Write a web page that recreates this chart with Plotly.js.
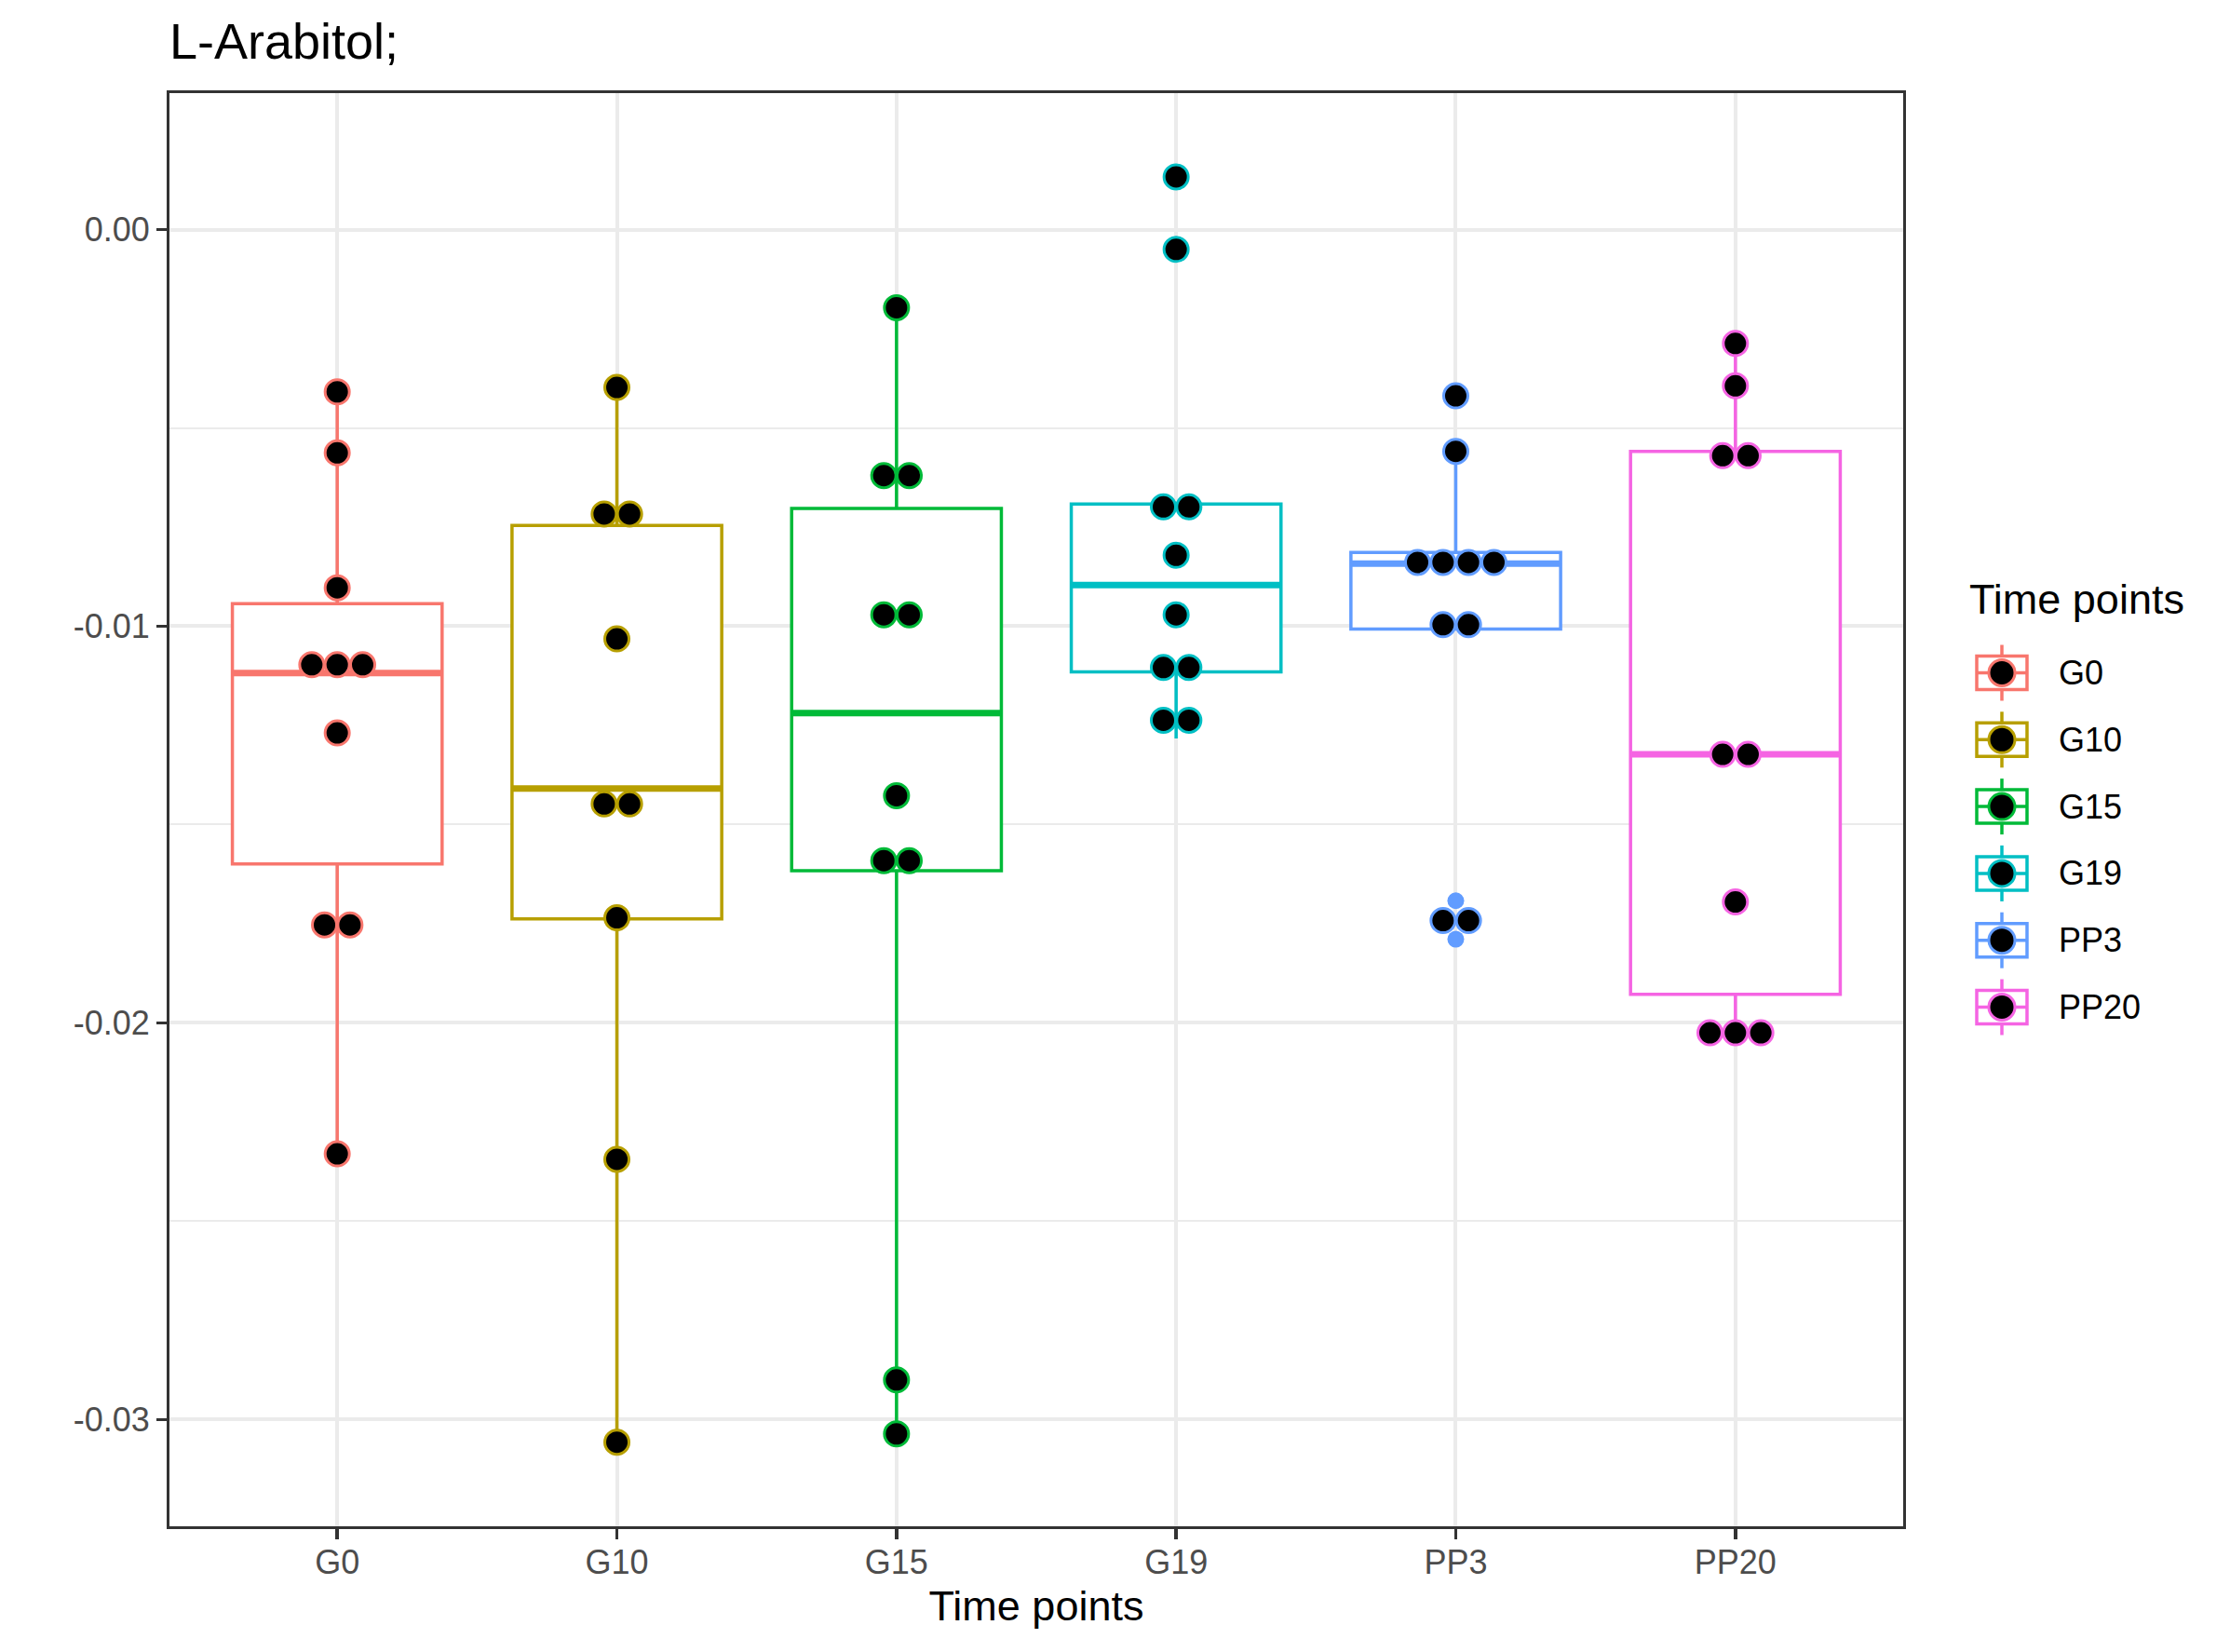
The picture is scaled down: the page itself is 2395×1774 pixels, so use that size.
<!DOCTYPE html>
<html>
<head>
<meta charset="utf-8">
<script src="https://cdn.plot.ly/plotly-3.0.1.min.js"></script>
<style>html,body{margin:0;padding:0;background:#fff;}#chart{width:2395px;height:1774px;}</style>
</head>
<body>
<div id="chart"></div>
<script>
// ---- data ----
const categories = ['G0', 'G10', 'G15', 'G19', 'PP3', 'PP20'];
const colors = ['#F8766D', '#B79F00', '#00BA38', '#00BFC4', '#619CFF', '#F564E3'];

const valuesG0   = [-0.00409, -0.00563, -0.00903, -0.01097, -0.01097, -0.01097, -0.01269, -0.01753, -0.01753, -0.02330];
const valuesG10  = [-0.00398, -0.00717, -0.00717, -0.01032, -0.01448, -0.01448, -0.01735, -0.02344, -0.03057];
const valuesG15  = [-0.00197, -0.00620, -0.00620, -0.00971, -0.00971, -0.01427, -0.01591, -0.01591, -0.02900, -0.03036];
const valuesG19  = [0.00133, -0.00050, -0.00699, -0.00699, -0.00821, -0.00971, -0.01104, -0.01104, -0.01237, -0.01237];
const valuesPP3  = [-0.00419, -0.00559, -0.00839, -0.00839, -0.00839, -0.00839, -0.00996, -0.00996, -0.01742, -0.01742];
const valuesPP20 = [-0.00287, -0.00394, -0.00570, -0.00570, -0.01323, -0.01323, -0.01695, -0.02025, -0.02025, -0.02025];

const q1Values     = [-0.01599, -0.01738, -0.01616, -0.01115, -0.01007, -0.01928];
const medianValues = [-0.01118, -0.01409, -0.01219, -0.00896, -0.00842, -0.01323];
const q3Values     = [-0.00943, -0.00746, -0.00703, -0.00692, -0.00814, -0.00559];
const lowerWhisker = [-0.02330, -0.03057, -0.03036, -0.01283, -0.01007, -0.02025];
const upperWhisker = [-0.00409, -0.00398, -0.00197, -0.00692, -0.00559, -0.00287];

const outliersG19 = [0.00133, -0.00050];
const outliersPP3 = [-0.00419, -0.01692, -0.01789];

const yTickValues = [0, -0.01, -0.02, -0.03];
const yTickLabels = ['0.00', '-0.01', '-0.02', '-0.03'];
const yMinorValues = [-0.005, -0.015, -0.025];

// ---- build ----
const allValues = [valuesG0, valuesG10, valuesG15, valuesG19, valuesPP3, valuesPP20];
const allOutliers = [[], [], [], outliersG19, outliersPP3, []];
const FONT = '"Liberation Sans", Arial, Helvetica, sans-serif';
const BOXW = 0.75;
const BINW = 0.091;

const traces = [];
categories.forEach((c, i) => {
  traces.push({
    type: 'box', x: [i], q1: [q1Values[i]], median: [medianValues[i]], q3: [q3Values[i]],
    lowerfence: [lowerWhisker[i]], upperfence: [upperWhisker[i]],
    width: BOXW, whiskerwidth: 0, boxpoints: false,
    fillcolor: '#FFFFFF', line: {color: colors[i], width: 3.5},
    showlegend: false, hoverinfo: 'skip'
  });
});
categories.forEach((c, i) => {
  traces.push({
    type: 'scatter', mode: 'lines', x: [i - BOXW / 2, i + BOXW / 2], y: [medianValues[i], medianValues[i]],
    line: {color: colors[i], width: 7}, showlegend: false, hoverinfo: 'skip'
  });
});
categories.forEach((c, i) => {
  if (!allOutliers[i].length) return;
  traces.push({
    type: 'scatter', mode: 'markers', x: allOutliers[i].map(() => i), y: allOutliers[i],
    marker: {color: colors[i], size: 18}, showlegend: false, hoverinfo: 'skip'
  });
});
categories.forEach((c, i) => {
  const vals = allValues[i];
  const counts = {};
  vals.forEach(v => { counts[v] = (counts[v] || 0) + 1; });
  const seen = {};
  const xs = [], ys = [];
  vals.forEach(v => {
    const n = counts[v];
    const k = seen[v] || 0; seen[v] = k + 1;
    xs.push(i + (k - (n - 1) / 2) * BINW);
    ys.push(v);
  });
  traces.push({
    type: 'scatter', mode: 'markers', x: xs, y: ys, name: c,
    marker: {color: '#000000', size: 26, line: {color: colors[i], width: 3}},
    showlegend: false, hoverinfo: 'y'
  });
});

// ---- legend (ggplot style keys) ----
const plotL = 182, plotR = 2044, plotT = 100, plotB = 1639;
const px2paperX = px => (px - plotL) / (plotR - plotL);
const px2paperY = py => (plotB - py) / (plotB - plotT);
const shapes = [], annotations = [];
const keyX = px2paperX(2150);
categories.forEach((c, i) => {
  const ky = px2paperY(722.5 + 71.8 * i);
  const base = {xref: 'paper', yref: 'paper', xsizemode: 'pixel', ysizemode: 'pixel', xanchor: keyX, yanchor: ky};
  shapes.push(Object.assign({}, base, {type: 'line', x0: 0, x1: 0, y0: -30, y1: 30, line: {color: colors[i], width: 3.5}}));
  shapes.push(Object.assign({}, base, {type: 'rect', x0: -27, x1: 27, y0: -18, y1: 18, fillcolor: '#FFFFFF', line: {color: colors[i], width: 3.5}}));
  shapes.push(Object.assign({}, base, {type: 'line', x0: -27, x1: 27, y0: 0, y1: 0, line: {color: colors[i], width: 3.5}}));
  shapes.push(Object.assign({}, base, {type: 'circle', x0: -14, x1: 14, y0: -14, y1: 14, fillcolor: '#000000', line: {color: colors[i], width: 3}}));
  annotations.push({xref: 'paper', yref: 'paper', x: px2paperX(2209), y: ky, xanchor: 'left', yanchor: 'middle',
    text: c, showarrow: false, font: {family: FONT, size: 36, color: '#000000'}});
});
annotations.push({xref: 'paper', yref: 'paper', x: px2paperX(2113), y: px2paperY(643), xanchor: 'left', yanchor: 'middle',
  text: 'Time points', showarrow: false, font: {family: FONT, size: 45, color: '#000000'}});

const layout = {
  width: 2395, height: 1774,
  paper_bgcolor: '#FFFFFF', plot_bgcolor: '#FFFFFF',
  margin: {l: plotL, r: 2395 - plotR, t: plotT, b: 1774 - plotB, pad: 0},
  font: {family: FONT},
  title: {text: 'L-Arabitol;', font: {family: FONT, size: 54, color: '#000000'},
    xref: 'paper', x: 0, xanchor: 'left', yref: 'container', y: 1 - 44 / 1774, yanchor: 'middle'},
  showlegend: false,
  xaxis: {
    type: 'linear', range: [-0.6, 5.6], tickmode: 'array', tickvals: categories.map((c, i) => i), ticktext: categories,
    showgrid: true, gridcolor: '#EBEBEB', gridwidth: 4, zeroline: false,
    ticks: 'outside', ticklen: 11, tickwidth: 3.5, tickcolor: '#333333',
    tickfont: {family: FONT, size: 36, color: '#4D4D4D'}, ticklabelstandoff: -6,
    showline: true, mirror: true, linecolor: '#333333', linewidth: 3,
    title: {text: 'Time points', font: {family: FONT, size: 45, color: '#000000'}, standoff: 12}
  },
  yaxis: {
    range: [-0.03269, 0.00344], tickmode: 'array', tickvals: yTickValues, ticktext: yTickLabels,
    showgrid: true, gridcolor: '#EBEBEB', gridwidth: 4, zeroline: false,
    minor: {tickmode: 'array', tickvals: yMinorValues, showgrid: true, gridcolor: '#EBEBEB', gridwidth: 2, ticks: ''},
    ticks: 'outside', ticklen: 11, tickwidth: 3.5, tickcolor: '#333333',
    tickfont: {family: FONT, size: 36, color: '#4D4D4D'},
    showline: true, mirror: true, linecolor: '#333333', linewidth: 3
  },
  shapes: shapes, annotations: annotations
};

Plotly.newPlot('chart', traces, layout, {displayModeBar: false, staticPlot: true});
</script>
</body>
</html>
